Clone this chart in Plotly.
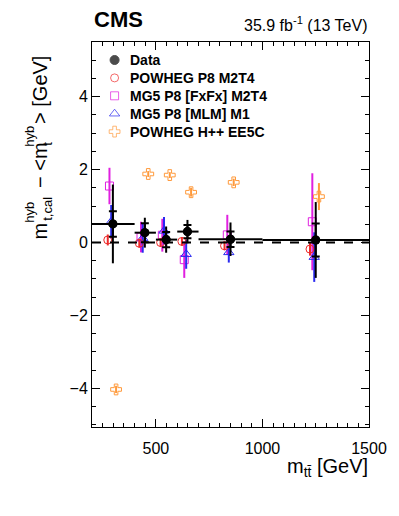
import plotly.graph_objects as go

# bins of m_tt and measured points
bin_lo = [200, 400, 500, 600, 700, 1000]
bin_hi = [400, 500, 600, 700, 1000, 1500]
data_x = [298, 448, 548, 648, 850, 1250]
data_y = [0.51, 0.27, 0.08, 0.30, 0.09, 0.07]
data_err_tot = [1.08, 0.41, 0.36, 0.32, 0.46, 1.04]
data_err_stat = [0.35, 0.26, 0.21, 0.18, 0.21, 0.45]

# simulations
pow_x = [274, 422, 522, 622, 822, 1223]
pow_y = [0.07, -0.02, 0.00, 0.03, -0.09, -0.18]
pow_err = [0.15, 0.12, 0.12, 0.12, 0.12, 0.18]

fxfx_x = [282, 430, 530, 633, 835, 1234]
fxfx_y = [1.55, 0.15, 0.20, -0.47, 0.21, 0.57]
fxfx_err = [0.50, 0.42, 0.45, 0.50, 0.55, 1.33]

mlm_x = [290, 438, 538, 642, 842, 1243]
mlm_y = [0.57, 0.12, 0.32, -0.32, -0.27, -0.40]
mlm_err = [0.46, 0.40, 0.38, 0.40, 0.28, 0.68]

hpp_x = [313, 464, 565, 665, 865, 1265]
hpp_y = [-4.03, 1.88, 1.85, 1.38, 1.65, 1.26]
hpp_err = [0.10, 0.08, 0.08, 0.12, 0.10, 0.37]

legend_names = ["Data", "POWHEG P8 M2T4", "MG5 P8 [FxFx] M2T4", "MG5 P8 [MLM] M1", "POWHEG H++ EE5C"]

FONT = "Liberation Sans, Arial, sans-serif"
W, H = 399, 516
L, R, T, B = 92, 25, 42, 89
PW, PH = W - L - R, H - T - B

C_DATA, C_POW, C_FXFX, C_MLM, C_HPP = "black", "#ee2a2a", "#e020e0", "#2a2af0", "#ff9a3c"


def px(x):
    return (x - L) / PW


def py(y):
    return (H - B - y) / PH


def mc_trace(x, y, err, color, symbol, size=8):
    return go.Scatter(
        x=x, y=y, mode="markers", showlegend=False,
        marker=dict(symbol=symbol, size=size, color=color, line=dict(color=color, width=1)),
        error_y=dict(type="data", array=err, color=color, thickness=2, width=0),
    )


fig = go.Figure()
fig.add_hline(y=0, line=dict(color="black", width=2, dash="dash"))

fig.add_trace(mc_trace(fxfx_x, fxfx_y, fxfx_err, C_FXFX, "square-open"))
fig.add_trace(mc_trace(mlm_x, mlm_y, mlm_err, C_MLM, "triangle-up-open", 9))
fig.add_trace(mc_trace(pow_x, pow_y, pow_err, C_POW, "circle-open"))
fig.add_trace(mc_trace(hpp_x, hpp_y, hpp_err, C_HPP, "cross-open", 9))

# data: total uncertainty, then stat ticks
ex_plus = [h - x for h, x in zip(bin_hi, data_x)]
ex_minus = [x - l for l, x in zip(bin_lo, data_x)]
fig.add_trace(go.Scatter(
    x=data_x, y=data_y, mode="markers", showlegend=False,
    marker=dict(size=9, color=C_DATA),
    error_y=dict(type="data", array=data_err_tot, color="black", thickness=2, width=0),
    error_x=dict(type="data", array=ex_plus, arrayminus=ex_minus, symmetric=False,
                 color="black", thickness=2, width=0),
))
fig.add_trace(go.Scatter(
    x=data_x, y=data_y, mode="markers", showlegend=False,
    marker=dict(size=9, color=C_DATA),
    error_y=dict(type="data", array=data_err_stat, color="black", thickness=2, width=4),
))

# hand-made legend (ROOT-style tight rows), drawn in pixel space on overlay axes
leg_rows = [60 + 17.9 * i for i in range(len(legend_names))]
leg_sym = ["circle", "circle-open", "square-open", "triangle-up-open", "cross-open"]
leg_col = [C_DATA, C_POW, C_FXFX, C_MLM, C_HPP]
leg_size = [9, 8, 8, 9, 9]
fig.add_trace(go.Scatter(
    x=[115] * len(legend_names), y=leg_rows, mode="markers", showlegend=False,
    xaxis="x2", yaxis="y2", hoverinfo="skip",
    marker=dict(symbol=leg_sym, size=leg_size, color=leg_col, line=dict(color=leg_col, width=1)),
))

axis_common = dict(
    showline=True, linecolor="black", linewidth=1, mirror="allticks",
    ticks="inside", ticklen=8, tickwidth=1, tickcolor="black",
    showgrid=False, zeroline=False,
    tickfont=dict(family=FONT, size=16, color="black"),
)
fig.update_xaxes(range=[200, 1500], dtick=500, tick0=500, ticklabelstandoff=7,
                 minor=dict(dtick=50, ticks="inside", ticklen=4, tickcolor="black"),
                 **axis_common)
fig.update_yaxes(range=[-5.06, 5.5], dtick=2, tick0=0,
                 minor=dict(dtick=0.5, ticks="inside", ticklen=4, tickcolor="black"),
                 **axis_common)

ann = []
ann.append(dict(x=px(92), y=py(34), text="<b>CMS</b>", xanchor="left", yanchor="bottom",
                font=dict(family=FONT, size=22, color="black")))
ann.append(dict(x=px(375), y=py(36), text="35.9 fb<sup>-1</sup> (13 TeV)", xanchor="right",
                yanchor="bottom", font=dict(family=FONT, size=16, color="black")))
ann.append(dict(x=px(375), y=py(482), text="m<sub>tt\u0304</sub> [GeV]", xanchor="right",
                yanchor="bottom", font=dict(family=FONT, size=20, color="black")))

for name, yy in zip(legend_names, leg_rows):
    ann.append(dict(x=px(129), y=py(yy), text="<b>%s</b>" % name, xanchor="left", yanchor="middle",
                    font=dict(family=FONT, size=14, color="black")))

# y title built from pieces so sub/superscripts stack
ytitle = [
    ("m", 39, 241, 20),
    ("hyb", 28, 225, 13),
    ("t,cal", 46, 223, 13),
    ("\u2212 <m", 39, 190, 20),
    ("hyb", 28, 149, 13),
    ("t", 46, 148, 13),
    ("> [GeV]", 39, 126, 20),
]
for txt, cx, by, size in ytitle:
    ann.append(dict(x=px(cx), y=py(by), text=txt, textangle=-90, xanchor="center",
                    yanchor="bottom", font=dict(family=FONT, size=size, color="black")))

for a in ann:
    a.update(xref="paper", yref="paper", showarrow=False)

fig.update_layout(
    width=W, height=H,
    margin=dict(l=L, r=R, t=T, b=B),
    plot_bgcolor="white", paper_bgcolor="white",
    annotations=ann,
    showlegend=False,
    xaxis2=dict(overlaying="x", range=[L, W - R], visible=False, fixedrange=True),
    yaxis2=dict(overlaying="y", range=[H - B, T], visible=False, fixedrange=True),
)

fig.write_html("out.html", config={"displayModeBar": False},
               post_script="document.body.style.margin='0px';")
